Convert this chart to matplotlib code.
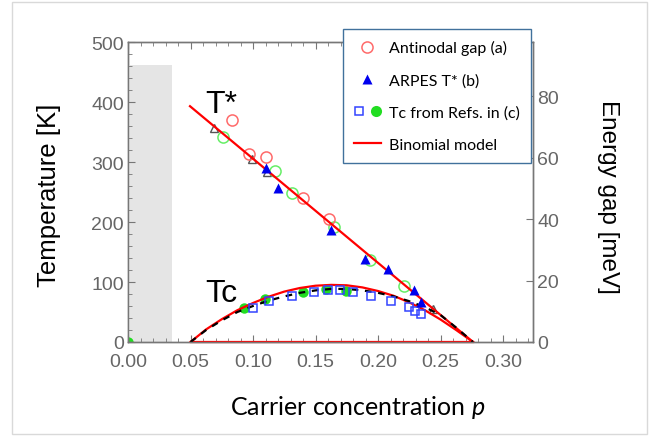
import matplotlib
matplotlib.use("Agg")
import matplotlib.pyplot as plt
from matplotlib.lines import Line2D
from matplotlib.legend_handler import HandlerTuple
from matplotlib.patches import Rectangle
from matplotlib.ticker import MultipleLocator

plt.rcParams['font.family'] = ['Liberation Sans', 'DejaVu Sans']
plt.rcParams['mathtext.fontset'] = 'custom'
plt.rcParams['mathtext.it'] = 'Lato:italic'

# antinodal gap (a), open red circles
gap_p = [0.0835, 0.0968, 0.110, 0.140, 0.1605]
gap_T = [370, 313, 308, 240, 205]
# extra open green circles on T*
grn_p = [0.0762, 0.1176, 0.1312, 0.1646, 0.1939, 0.2211]
grn_T = [341, 285, 249, 191, 136, 94]
# ARPES T* (b), blue filled triangles
arpes_p = [0.110, 0.1197, 0.1621, 0.1898, 0.2080, 0.2288, 0.2342]
arpes_T = [290, 256, 186, 138, 122, 86, 66]
# grey open triangles
tri_p = [0.0691, 0.0989, 0.1114, 0.2443]
tri_T = [356, 305, 284, 55]
# Tc from refs (c): filled green circles and open blue squares
tcg_p = [0.0, 0.0928, 0.1098, 0.1398, 0.1585, 0.1740]
tcg_T = [0.0, 57, 72, 83, 88, 85]
tcb_p = [0.0998, 0.1131, 0.1310, 0.1484, 0.1603, 0.1696, 0.1802,
         0.1944, 0.2101, 0.2251, 0.2296, 0.2344]
tcb_T = [56, 69, 77, 83, 87, 87, 84, 77, 69, 59, 52, 47]

# binomial model lines
tstar_p = [0.0496, 0.276]
tstar_T = [393, 0]
dome_p = [0.050, 0.0625, 0.075, 0.0875, 0.100, 0.1125, 0.125, 0.1375, 0.150,
          0.1625, 0.175, 0.1875, 0.200, 0.2125, 0.225, 0.2375, 0.250, 0.2625, 0.276]
dome_T = [0, 21, 38, 53, 65, 75.5, 84, 90, 93.8, 95.2, 94.5, 91, 85, 77,
          66, 53, 37.5, 20, 0]
base_p = [0.050, 0.276]
base_T = [0, 0]
dash_p = [0.050, 0.0625, 0.075, 0.0875, 0.100, 0.1125, 0.125, 0.1375, 0.150,
          0.1625, 0.175, 0.1875, 0.200, 0.2125, 0.225, 0.2375, 0.250, 0.2625, 0.276]
dash_T = [0, 20, 36, 50, 60, 69, 76, 82, 86, 88.5, 88.5, 86, 82, 76, 68, 58,
          45, 24, 0]

# grey region
shade_p = [0.0016, 0.035]
shade_top = 462

K_PER_MEV = 5.12

fig = plt.figure(figsize=(6.62, 4.39), dpi=100)
ax = fig.add_axes([128 / 662, 1 - 343 / 439, 405 / 662, 300 / 439])

ax.fill_between(shade_p, 0, shade_top, color='#e5e5e5', lw=0, zorder=0)

ax.plot(tstar_p, tstar_T, color='red', lw=1.6, zorder=3)
ax.plot(dome_p, dome_T, color='red', lw=1.6, zorder=3)
ax.plot(base_p, base_T, color='red', lw=1.6, zorder=3, clip_on=False)
ax.plot(dash_p, dash_T, color='black', lw=1.6, ls=(0, (3, 3)), zorder=3.5)

ax.plot(tri_p, tri_T, ls='none', marker='^', ms=6, mfc='none',
        mec='#555555', mew=1, zorder=2)
ax.plot(grn_p, grn_T, ls='none', marker='o', ms=8, mfc='none',
        mec='#66ee66', mew=1.1, zorder=2)
ax.plot(gap_p, gap_T, ls='none', marker='o', ms=8, mfc='none',
        mec='#ff6a6a', mew=1.1, zorder=2)
ax.plot(tcg_p, tcg_T, ls='none', marker='o', ms=7.5, color='#22dd22',
        mec='none', zorder=2)
ax.plot(tcb_p, tcb_T, ls='none', marker='s', ms=6, mfc='none',
        mec='#3344ff', mew=1.1, zorder=4)
ax.plot(arpes_p, arpes_T, ls='none', marker='^', ms=7, color='#0000ee',
        mec='none', zorder=4)

ax.text(0.0616, 383, 'T*', fontsize=23, ha='left', va='baseline')
ax.text(0.0616, 68, 'Tc', fontsize=23, ha='left', va='baseline')

ax.set_xlim(0, 0.324)
ax.set_ylim(0, 500)
ax.xaxis.set_major_locator(MultipleLocator(0.05))
ax.xaxis.set_minor_locator(MultipleLocator(0.01))
ax.yaxis.set_major_locator(MultipleLocator(100))
ax.yaxis.set_minor_locator(MultipleLocator(20))
ax.set_xticks([0, 0.05, 0.10, 0.15, 0.20, 0.25, 0.30])
ax.set_xticklabels(['0.00', '0.05', '0.10', '0.15', '0.20', '0.25', '0.30'])

grey = '#777777'
for s in ax.spines.values():
    s.set_color(grey)
    s.set_linewidth(1)
ax.tick_params(which='both', direction='in', color=grey, top=True,
               labelcolor='#666666', labelsize=14)
ax.tick_params(which='major', length=5)
ax.tick_params(which='minor', length=3)
ax.tick_params(axis='x', pad=8)
ax.tick_params(axis='y', pad=3)

ax2 = ax.twinx()
ax2.set_ylim(0, 500 / K_PER_MEV)
ax2.yaxis.set_major_locator(MultipleLocator(20))
ax2.tick_params(direction='in', color=grey, labelcolor='#666666',
                labelsize=14, length=5, pad=3)
for s in ax2.spines.values():
    s.set_color(grey)
    s.set_linewidth(1)

fig.text(49 / 662, 1 - 195 / 439, 'Temperature [K]', rotation=90,
         ha='center', va='center', fontsize=18.5)
fig.text(608 / 662, 1 - 197 / 439, 'Energy gap [meV]', rotation=270,
         ha='center', va='center', fontsize=17.5)
fig.text(358 / 662, 1 - 408 / 439, 'Carrier concentration $p$',
         ha='center', va='center', fontsize=18, family=['Lato', 'DejaVu Sans'])

# legend
h_gap = Line2D([], [], ls='none', marker='o', ms=8, mfc='none',
               mec='#ff6a6a', mew=1.1)
h_arp = Line2D([], [], ls='none', marker='^', ms=7, color='#0000ee', mec='none')
h_sq = Line2D([], [], ls='none', marker='s', ms=6, mfc='none',
              mec='#3344ff', mew=1.1)
h_gc = Line2D([], [], ls='none', marker='o', ms=8, color='#22dd22', mec='none')
h_mod = Line2D([], [], color='red', lw=1.6)
leg = fig.legend([h_gap, h_arp, (h_sq, h_gc), h_mod],
                 ['Antinodal gap (a)', 'ARPES T* (b)', 'Tc from Refs. in (c)',
                  'Binomial model'],
                 handler_map={tuple: HandlerTuple(ndivide=None, pad=0.4)},
                 loc='upper left', bbox_to_anchor=(343 / 662, 1 - 30 / 439),
                 borderaxespad=0, frameon=True, fancybox=False, framealpha=1,
                 edgecolor='#41719c', handlelength=1.65, handletextpad=0.5,
                 labelspacing=1.12, borderpad=0.7,
                 prop={'family': 'Lato', 'size': 11.5})
leg.get_frame().set_linewidth(1)

fig.add_artist(Rectangle((12 / 662, 1 - 435 / 439), 635 / 662, 432 / 439,
                         transform=fig.transFigure, fill=False,
                         edgecolor='#d9d9d9', lw=1))

fig.savefig('out.png', dpi=100)
